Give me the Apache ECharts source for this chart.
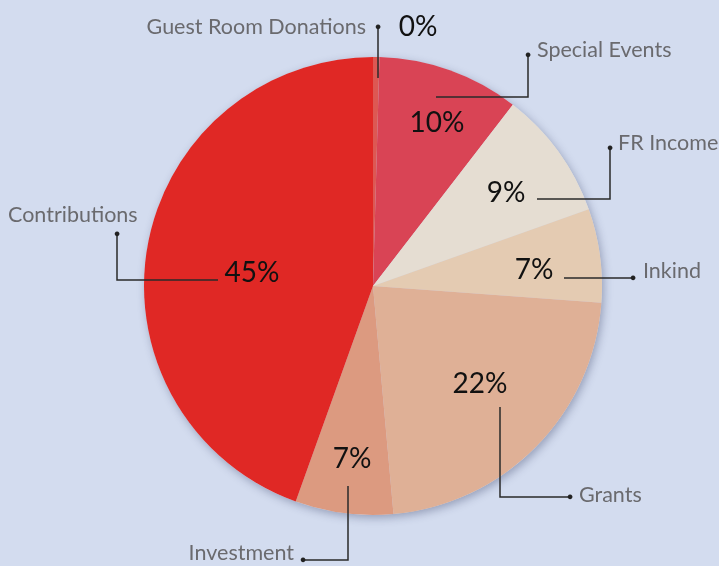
<!DOCTYPE html>
<html>
<head>
<meta charset="utf-8">
<script src="https://cdn.jsdelivr.net/npm/echarts@6/dist/echarts.min.js"></script>
<style>
  html, body { margin: 0; padding: 0; background: #d3dcef; }
  #main { width: 719px; height: 566px; }
</style>
</head>
<body>
<div id="main"></div>
<script>
// data, clockwise from 12 o'clock
const categories = ['Guest Room Donations', 'Special Events', 'FR Income', 'Inkind', 'Grants', 'Investment', 'Contributions']
const values = [0.45, 10.0, 9.1, 6.6, 22.4, 6.9, 44.5]
const colors = ['#dd5853', '#d94455', '#e5ddd2', '#e4cbb2', '#dfb096', '#dc9a80', '#e02825']

// label placement (pixels), one row per category
const pctPos = [[418, 27], [437, 123], [506, 193], [534, 270], [480, 384], [352, 459], [252, 273]]
const namePos = [[366, 27, 'right'], [537, 50, 'left'], [618, 143, 'left'], [643, 271, 'left'], [579, 495, 'left'], [294, 553, 'right'], [8, 215, 'left']]
const leaders = [
  [[378, 78], [378, 50], [378, 27]],
  [[436, 97], [528, 97], [528, 55]],
  [[537, 199], [610, 199], [610, 148]],
  [[564, 278], [600, 278], [633, 278]],
  [[500, 407], [500, 497], [570, 497]],
  [[348, 486], [348, 560], [303, 560]],
  [[218, 280], [117, 280], [117, 234]]
]

let myChart = echarts.init(document.getElementById('main'))

let pieData = categories.map(function (c, i) {
  return { name: c, value: values[i] }
})
let total = values.reduce(function (a, b) { return a + b }, 0)

const center = [373, 286]
const radius = 229
const font = 'Lato, "Open Sans", sans-serif'

let option = {
  backgroundColor: '#d3dcef',
  animation: false,
  series: [
    {
      // shadow disc under the slices
      type: 'pie',
      center: center,
      radius: radius,
      silent: true,
      z: 1,
      label: { show: false },
      labelLine: { show: false },
      itemStyle: {
        color: '#d3dcef',
        shadowBlur: 8,
        shadowOffsetX: 2,
        shadowOffsetY: 3,
        shadowColor: 'rgba(40,50,90,0.35)'
      },
      data: [{ name: 'all', value: total }]
    },
    {
      type: 'pie',
      center: center,
      radius: radius,
      startAngle: 90,
      clockwise: true,
      avoidLabelOverlap: false,
      z: 2,
      color: colors,
      itemStyle: { borderWidth: 0 },
      label: {
        show: true,
        position: 'inside',
        fontFamily: font,
        fontSize: 28,
        color: '#111',
        formatter: function (params) {
          return Math.round(params.percent) + '%'
        }
      },
      labelLine: { show: false },
      labelLayout: function (params) {
        let p = pctPos[params.dataIndex]
        return { x: p[0], y: p[1], align: 'center', verticalAlign: 'middle' }
      },
      data: pieData
    },
    {
      // category names
      type: 'pie',
      center: center,
      radius: radius,
      startAngle: 90,
      silent: true,
      avoidLabelOverlap: false,
      z: 3,
      itemStyle: { color: 'transparent' },
      label: {
        show: true,
        position: 'outside',
        fontFamily: font,
        fontSize: 21.5,
        color: '#6a6a6e',
        formatter: '{b}'
      },
      labelLine: { show: false },
      labelLayout: function (params) {
        let p = namePos[params.dataIndex]
        return { x: p[0], y: p[1], align: p[2], verticalAlign: 'middle' }
      },
      data: pieData
    },
    {
      // leader lines ending in a dot
      type: 'pie',
      center: center,
      radius: radius,
      startAngle: 90,
      silent: true,
      avoidLabelOverlap: false,
      z: 4,
      itemStyle: { color: 'transparent' },
      label: {
        show: true,
        position: 'outside',
        fontSize: 11,
        color: '#222',
        formatter: '●'
      },
      labelLine: {
        show: true,
        lineStyle: { color: '#2a2a2a', width: 1.5 }
      },
      labelLayout: function (params) {
        let l = leaders[params.dataIndex]
        let end = l[l.length - 1]
        return {
          x: end[0],
          y: end[1],
          align: 'center',
          verticalAlign: 'middle',
          labelLinePoints: l
        }
      },
      data: pieData
    }
  ]
}
myChart.setOption(option)
</script>
</body>
</html>
